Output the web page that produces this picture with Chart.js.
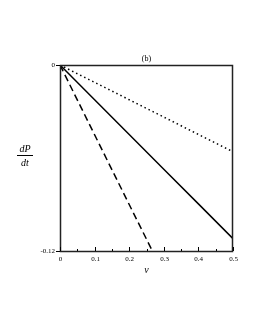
<!DOCTYPE html>
<html><head><meta charset="utf-8">
<script src="https://cdn.jsdelivr.net/npm/chart.js@4.4.1/dist/chart.umd.min.js"></script>
<style>html,body{margin:0;padding:0;background:#fff}#w{width:255px;height:330px}</style>
</head><body><div id="w"><canvas id="c" width="255" height="330"></canvas></div>
<script>
const vValues = [0, 0.1, 0.2, 0.3, 0.4, 0.5];
const solidSeries = [0, -0.0224, -0.0448, -0.0672, -0.0896, -0.112];
const dottedSeries = [0, -0.0112, -0.0224, -0.0336, -0.0448, -0.056];
const dashedV = [0, 0.1, 0.2, 0.267];
const dashedSeries = [0, -0.045, -0.09, -0.12];
const xTickValues = [0, 0.05, 0.1, 0.15, 0.2, 0.25, 0.3, 0.35, 0.4, 0.45, 0.5];
const xTickLabels = ['0', '', '0.1', '', '0.2', '', '0.3', '', '0.4', '', '0.5'];
const yTickValues = [-0.12, 0];
const yTickLabels = ['-0.12', '0'];
const titleText = '(b)';

const FONT = '"Liberation Serif", "DejaVu Serif", serif';

const framePlugin = {
  id: 'frame',
  afterDraw(chart) {
    const {ctx, chartArea: a, scales: {x, y}} = chart;
    ctx.save();
    ctx.strokeStyle = '#222';
    ctx.lineWidth = 1.5;
    ctx.strokeRect(a.left + 0.5, a.top + 0.5, a.right - a.left - 1, a.bottom - a.top);
    ctx.lineWidth = 1;
    ctx.strokeStyle = '#000';
    xTickValues.forEach((v, i) => {
      const px = Math.round(x.getPixelForValue(v)) + 0.5;
      const len = xTickLabels[i] ? 4 : 2;
      ctx.beginPath(); ctx.moveTo(px, a.bottom); ctx.lineTo(px, a.bottom - len); ctx.stroke();
      if (xTickLabels[i]) {
        ctx.font = '7px ' + FONT; ctx.fillStyle = '#000';
        ctx.textAlign = 'center'; ctx.textBaseline = 'top';
        ctx.fillText(xTickLabels[i], px, a.bottom + 5);
      }
    });
    yTickValues.forEach((v, i) => {
      const py = Math.round(y.getPixelForValue(v)) + 0.5;
      ctx.beginPath(); ctx.moveTo(a.left, py); ctx.lineTo(a.left - 4, py); ctx.stroke();
      ctx.font = '7px ' + FONT; ctx.fillStyle = '#000';
      ctx.textAlign = 'right'; ctx.textBaseline = 'middle';
      ctx.fillText(yTickLabels[i], a.left - 5, py);
    });
    ctx.font = '8px ' + FONT; ctx.textAlign = 'center'; ctx.textBaseline = 'alphabetic';
    ctx.fillText(titleText, (a.left + a.right) / 2, a.top - 4);
    ctx.font = 'italic 10px ' + FONT;
    ctx.fillText('v', (a.left + a.right) / 2, a.bottom + 22);
    const cx = 25, cy = 155;
    ctx.font = 'italic 10px ' + FONT;
    ctx.fillText('dP', cx, cy - 3);
    ctx.fillText('dt', cx, cy + 11);
    ctx.beginPath(); ctx.moveTo(cx - 8, cy + 0.5); ctx.lineTo(cx + 8, cy + 0.5); ctx.stroke();
    ctx.restore();
  }
};

new Chart(document.getElementById('c'), {
  type: 'line',
  data: {
    datasets: [
      {data: vValues.map((v, i) => ({x: v, y: solidSeries[i]})), borderColor: '#000', borderWidth: 1.5},
      {data: vValues.map((v, i) => ({x: v, y: dottedSeries[i]})), borderColor: '#000', borderWidth: 1.5, borderDash: [1.5, 3]},
      {data: dashedV.map((v, i) => ({x: v, y: dashedSeries[i]})), borderColor: '#000', borderWidth: 1.5, borderDash: [7, 4]}
    ]
  },
  options: {
    responsive: false, animation: false, devicePixelRatio: 1,
    layout: {padding: {top: 65, right: 22, left: 0, bottom: 0}},
    elements: {point: {radius: 0}, line: {tension: 0}},
    plugins: {legend: {display: false}, tooltip: {enabled: false}},
    scales: {
      x: {type: 'linear', min: 0, max: 0.5,
        grid: {display: false}, border: {display: false}, ticks: {display: false},
        afterFit(s) { s.height = 79; }},
      y: {type: 'linear', min: -0.12, max: 0,
        grid: {display: false}, border: {display: false}, ticks: {display: false},
        afterFit(s) { s.width = 60; }}
    }
  },
  plugins: [framePlugin]
});
</script></body></html>
